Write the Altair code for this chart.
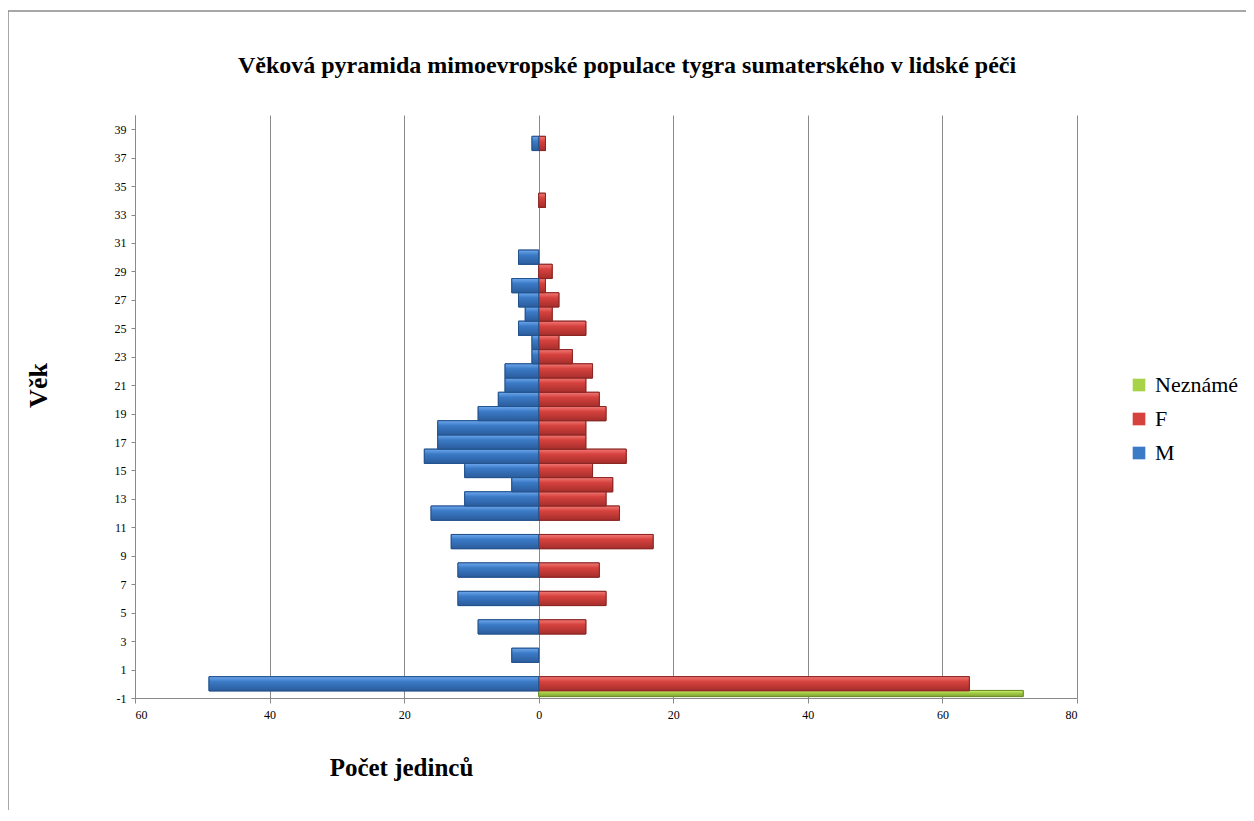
import altair as alt
import pandas as pd

# ---- data ----
ages = list(range(0, 39))
male = [49, 0, 4, 0, 9, 0, 12, 0, 12, 0,
        13, 0, 16, 11, 4, 11, 17, 15, 15, 9,
        6, 5, 5, 1, 1, 3, 2, 3, 4, 0,
        3, 0, 0, 0, 0, 0, 0, 0, 1]
female = [64, 0, 0, 0, 7, 0, 10, 0, 9, 0,
          17, 0, 12, 10, 11, 8, 13, 7, 7, 10,
          9, 7, 8, 5, 3, 7, 2, 3, 1, 2,
          0, 0, 0, 0, 1, 0, 0, 0, 1]
unknown_ages = [0]
unknown = [72]

series_order = ["Neznámé", "F", "M"]
fill_colors = ["#a8d247", "#d6423e", "#3b7ac6"]
light_colors = ["#d6f27f", "#f27a76", "#6ea9ee"]
dark_colors = ["#7da232", "#a52e2b", "#2a5c9c"]
edge_colors = ["#6f8f2a", "#8a2624", "#24528c"]
x_ticks = [-60, -40, -20, 0, 20, 40, 60, 80]
y_ticks = list(range(-1, 40, 2))

title_text = "Věková pyramida mimoevropské populace tygra sumaterského v lidské péči"

rows = []
for a, v in zip(ages, male):
    if v:
        rows.append({"age": a, "series": "M", "count": v})
for a, v in zip(ages, female):
    if v:
        rows.append({"age": a, "series": "F", "count": v})
for a, v in zip(unknown_ages, unknown):
    rows.append({"age": a, "series": "Neznámé", "count": v})
df = pd.DataFrame(rows)

FONT = "Liberation Serif"

x_axis = alt.Axis(
    values=x_ticks,
    labelExpr="abs(datum.value)",
    labelOverlap=False,
    title="Počet jedinců",
    titleX=266,
    titleY=69,
    titleAlign="center",
    titleBaseline="middle",
    titleFontSize=25,
    titleFontWeight="bold",
    titleFont=FONT,
    titleColor="#000000",
    labelFont=FONT,
    labelFontSize=12,
    labelColor="#000000",
    labelPadding=6,
    tickSize=5,
    tickColor="#8a8a8a",
    domainColor="#8a8a8a",
    grid=True,
    gridColor="#8a8a8a",
    gridWidth=1,
)
y_axis = alt.Axis(
    values=y_ticks,
    labelExpr="datum.value < 0 ? '-' + abs(datum.value) : '' + datum.value",
    labelOverlap=False,
    title="Věk",
    titleAngle=270,
    titleX=-97,
    titleY=270,
    titleAlign="center",
    titleBaseline="middle",
    titleFontSize=26,
    titleFontWeight="bold",
    titleFont=FONT,
    titleColor="#000000",
    labelFont=FONT,
    labelFontSize=12,
    labelColor="#000000",
    labelPadding=5,
    tickSize=4,
    tickColor="#8a8a8a",
    domainColor="#8a8a8a",
    grid=False,
)
x_scale = alt.Scale(domain=[-60, 80], nice=False)
y_scale = alt.Scale(domain=[-1, 40], nice=False, zero=False)

base = alt.Chart(df).transform_calculate(
    signed="datum.series == 'M' ? -datum.count : datum.count",
    ylo="datum.series == 'Neznámé' ? datum.age - 0.9 : datum.age - 0.5",
    yhi="datum.series == 'Neznámé' ? datum.age - 0.47 : datum.age + 0.5",
)

bars = base.mark_bar(strokeWidth=1).encode(
    x=alt.X("signed:Q", scale=x_scale, axis=x_axis),
    x2=alt.datum(0),
    y=alt.Y("ylo:Q", scale=y_scale, axis=y_axis),
    y2="yhi:Q",
    color=alt.Color(
        "series:N",
        scale=alt.Scale(domain=series_order, range=fill_colors),
        legend=alt.Legend(
            title=None,
            orient="none",
            legendX=993,
            legendY=259,
            symbolType="square",
            symbolSize=160,
            symbolStrokeWidth=0,
            labelFont=FONT,
            labelFontSize=22,
            labelColor="#000000",
            rowPadding=12,
            labelOffset=5,
        ),
    ),
    stroke=alt.Stroke(
        "series:N",
        scale=alt.Scale(domain=series_order, range=edge_colors),
        legend=None,
    ),
)

# bevel-like shading for each series
shade_layers = []
for s, lc, mc, dc, ec in zip(series_order, light_colors, fill_colors, dark_colors, edge_colors):
    grad = {
        "gradient": "linear",
        "x1": 0, "y1": 0, "x2": 0, "y2": 1,
        "stops": [
            {"offset": 0, "color": lc},
            {"offset": 0.35, "color": mc},
            {"offset": 1, "color": dc},
        ],
    }
    shade_layers.append(
        base.transform_filter(alt.datum.series == s)
        .mark_bar(color=grad, stroke=ec, strokeWidth=1)
        .encode(
            x=alt.X("signed:Q", scale=x_scale, axis=x_axis),
            x2=alt.datum(0),
            y=alt.Y("ylo:Q", scale=y_scale, axis=y_axis),
            y2="yhi:Q",
        )
    )

frame = alt.Chart(pd.DataFrame({"k": [0]})).mark_rect(
    filled=False, stroke="#8a8a8a", strokeWidth=1.5
).encode(
    x=alt.value(-127),
    y=alt.value(-104),
    x2=alt.value(1300),
    y2=alt.value(900),
)

title = alt.Chart(pd.DataFrame({"t": [title_text]})).mark_text(
    font=FONT, fontSize=24, fontWeight="bold", color="#000000",
    align="center", baseline="middle",
).encode(text="t:N", x=alt.value(492), y=alt.value(-49))

chart = alt.layer(frame, bars, *shade_layers, title).properties(
    width=942,
    height=583,
    autosize=alt.AutoSizeParams(type="none"),
    padding={"left": 127, "top": 107, "right": 169, "bottom": 112},
).configure(background="white").configure_view(stroke=None)

chart.save("out.html", embed_options={"renderer": "svg", "actions": False})
